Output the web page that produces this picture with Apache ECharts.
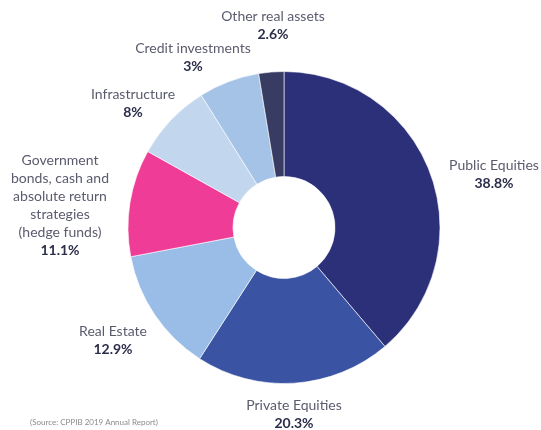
<!DOCTYPE html>
<html>
<head>
<meta charset="utf-8">
<script src="https://cdn.jsdelivr.net/npm/echarts@6/dist/echarts.min.js"></script>
<style>
  html, body { margin: 0; padding: 0; background: #fff; }
  #chart { width: 541px; height: 430px; }
</style>
</head>
<body>
<div id="chart"></div>
<script>
// categories, in drawing order (clockwise from 12 o'clock)
var categories = [
  "Public Equities",
  "Private Equities",
  "Real Estate",
  "Government\nbonds, cash and\nabsolute return\nstrategies\n(hedge funds)",
  "Infrastructure",
  "Credit investments",
  "Other real assets"
];
// slice sizes as drawn (credit slice is drawn ~6.3% although printed as 3%)
var sliceValues = [38.8, 20.3, 12.9, 11.1, 8, 6.3, 2.6];
// percentages printed on the labels
var printedPct = ["38.8%", "20.3%", "12.9%", "11.1%", "8%", "3%", "2.6%"];
var colors = ["#2b3079", "#3a53a2", "#99bde6", "#ef3c96", "#c2d7ee", "#a5c3e6", "#383b62"];

// label block centres (px)
var labelPos = [
  [494, 174],
  [294, 414],
  [113, 340],
  [60, 205],
  [133, 103],
  [193, 57],
  [273, 25]
];

var chart = echarts.init(document.getElementById("chart"));

chart.setOption({
  animation: false,
  color: colors,
  graphic: [{
    type: "text",
    left: 30,
    top: 418,
    style: {
      text: "(Source: CPPIB 2019 Annual Report)",
      fontFamily: "Lato",
      fontSize: 8,
      fill: "#8a8a8a"
    }
  }],
  series: [{
    type: "pie",
    center: [284, 227.5],
    radius: [51, 156],
    startAngle: 90,
    clockwise: true,
    silent: true,
    itemStyle: { borderColor: "#ffffff", borderWidth: 0.6 },
    labelLine: { show: false },
    label: {
      show: true,
      position: "outside",
      overflow: "none",
      fontFamily: "Lato",
      formatter: function (p) {
        return "{n|" + p.name + "}\n{v|" + printedPct[p.dataIndex] + "}";
      },
      rich: {
        n: { fontFamily: "Lato", fontSize: 14, color: "#5a5c6e", lineHeight: 18, align: "center" },
        v: { fontFamily: "Lato", fontSize: 14, fontWeight: "bold", color: "#2b2d4a", lineHeight: 18, align: "center" }
      }
    },
    labelLayout: function (params) {
      var pos = labelPos[params.dataIndex];
      return { x: pos[0], y: pos[1], align: "center", verticalAlign: "middle" };
    },
    data: categories.map(function (c, i) {
      return { name: c, value: sliceValues[i] };
    })
  }]
});
</script>
</body>
</html>
